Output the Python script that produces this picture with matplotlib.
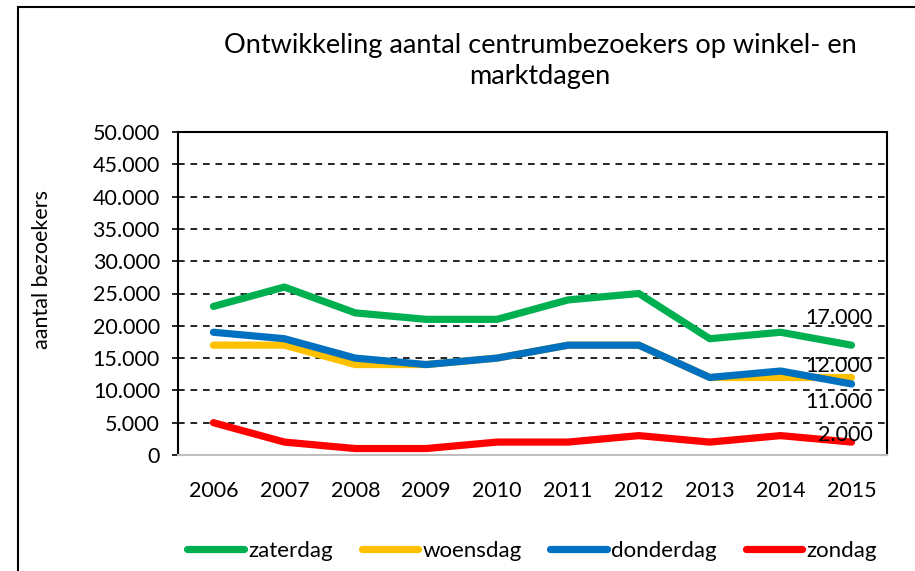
import matplotlib.pyplot as plt
from matplotlib.patches import Rectangle

# data (aantal bezoekers per jaar)
jaren = ["2006", "2007", "2008", "2009", "2010", "2011", "2012", "2013", "2014", "2015"]
zaterdag = [23000, 26000, 22000, 21000, 21000, 24000, 25000, 18000, 19000, 17000]
woensdag = [17000, 17000, 14000, 14000, 15000, 17000, 17000, 12000, 12000, 12000]
donderdag = [19000, 18000, 15000, 14000, 15000, 17000, 17000, 12000, 13000, 11000]
zondag = [5000, 2000, 1000, 1000, 2000, 2000, 3000, 2000, 3000, 2000]
y_ticks = list(range(0, 50001, 5000))

plt.rcParams["font.family"] = ["Lato", "DejaVu Sans"]

fig = plt.figure(figsize=(9.15, 5.71), dpi=100)
ax = fig.add_axes([178 / 915, 1 - 455 / 571, (887 - 178) / 915, (455 - 132) / 571])

# rand om de hele figuur
fig.patches.append(Rectangle((18 / 915, -0.1), 1.0, 1 - 7 / 571 + 0.1,
                             transform=fig.transFigure, fill=False,
                             edgecolor="black", linewidth=1.5))

x = range(len(jaren))
reeksen = [
    ("zaterdag", zaterdag, "#00b050"),
    ("woensdag", woensdag, "#ffc000"),
    ("donderdag", donderdag, "#0070c0"),
    ("zondag", zondag, "#ff0000"),
]
for naam, vals, kleur in reeksen:
    ax.plot(x, vals, color=kleur, linewidth=5.2, solid_capstyle="round",
            solid_joinstyle="round", label=naam)

for y in y_ticks[1:-1]:
    ax.axhline(y, color="black", linestyle=(0, (4, 3.5)), linewidth=1.2, zorder=0)

ax.set_xlim(-0.5, len(jaren) - 0.5)
ax.set_ylim(0, 50000)
ax.set_yticks(y_ticks)
ax.set_yticklabels([f"{v:,}".replace(",", ".") for v in y_ticks], fontsize=15.5)
ax.set_xticks(list(x))
ax.set_xticklabels(jaren, fontsize=15.5)
ax.tick_params(axis="x", length=0, pad=19)
ax.tick_params(axis="y", length=4, width=1.2, pad=9, direction="out")

for s in ["top", "left", "right"]:
    ax.spines[s].set_color("black")
    ax.spines[s].set_linewidth(1.5)
ax.spines["bottom"].set_color("#bfbfbf")
ax.spines["bottom"].set_linewidth(1.5)

ax.set_ylabel("aantal bezoekers", fontsize=15.5)
ax.yaxis.set_label_coords((52 - 178) / 709, (455 - 270) / 323)

# labels bij laatste punt
label_pos = [(zaterdag, 21200), (woensdag, 13700), (donderdag, 8200), (zondag, 3100)]
for vals, ypos in label_pos:
    ax.text(9.3, ypos, f"{vals[-1]:,}".replace(",", "."),
            ha="right", va="center", fontsize=15.5)

fig.text(540 / 915, 1 - 61 / 571,
         "Ontwikkeling aantal centrumbezoekers op winkel- en\nmarktdagen",
         ha="center", va="center", fontsize=19.5, linespacing=1.3)

fig.legend(loc="center", bbox_to_anchor=(532 / 915, 1 - 551 / 571), ncol=4,
           frameon=False, fontsize=16, handlelength=2.55, handletextpad=0.18,
           columnspacing=1.3)

fig.savefig("out.png", dpi=100)
